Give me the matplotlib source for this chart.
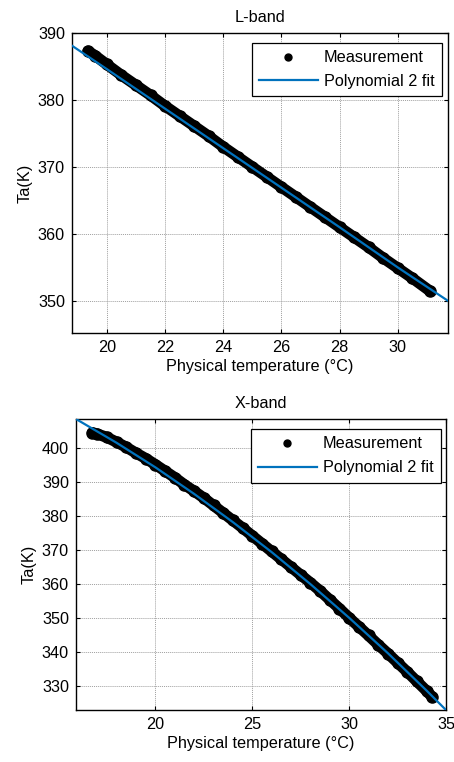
import matplotlib
matplotlib.use("Agg")
import matplotlib.pyplot as plt
from matplotlib.lines import Line2D

plt.rcParams['font.family'] = ['Liberation Sans', 'DejaVu Sans']
FS = 11.7
plt.rcParams['font.size'] = FS

# ---------------- L-band data ----------------
l_meas_x = [19.35, 19.6, 20.0, 20.5, 21.0, 21.5, 22.0, 22.5, 23.0, 23.5, 24.0, 24.5,
            25.0, 25.5, 26.0, 26.5, 27.0, 27.5, 28.0, 28.5, 29.0, 29.5, 30.0, 30.5, 31.1]
l_meas_y = [387.3, 386.6, 385.3, 383.7, 382.2, 380.7, 379.1, 377.6, 376.1, 374.6, 373.0, 371.5,
            370.0, 368.5, 367.0, 365.5, 364.0, 362.5, 361.0, 359.5, 358.0, 356.4, 354.9, 353.4, 351.5]
l_fit_x = [18.8, 20.0, 22.0, 24.0, 26.0, 28.0, 30.0, 31.73]
l_fit_y = [388.1, 384.6, 378.7, 372.8, 366.9, 361.0, 355.0, 350.0]
l_xticks = [20, 22, 24, 26, 28, 30]
l_yticks = [350, 360, 370, 380, 390]
l_xlim = (18.8, 31.73)
l_ylim = (345.2, 390)

# ---------------- X-band data ----------------
x_meas_x = [16.74, 17.0, 17.5, 18.0, 18.5, 19.0, 19.5, 20.0, 20.5, 21.0, 21.5, 22.0,
            22.5, 23.0, 23.5, 24.0, 24.5, 25.0, 25.5, 26.0, 26.5, 27.0, 27.5, 28.0,
            28.5, 29.0, 29.5, 30.0, 30.5, 31.0, 31.5, 32.0, 32.5, 33.0, 33.5, 34.0, 34.28]
x_meas_y = [404.4, 404.0, 403.0, 401.6, 400.1, 398.4, 396.8, 395.0, 393.1, 391.2, 389.1, 387.2,
            385.2, 383.0, 380.8, 378.6, 376.4, 374.1, 371.8, 369.5, 367.2, 364.9, 362.6, 360.3,
            357.9, 355.3, 352.7, 350.0, 347.4, 344.8, 342.1, 339.5, 336.8, 334.1, 331.3, 328.5, 326.8]
x_fit_x = [15.9, 18.0, 20.0, 22.0, 24.0, 26.0, 28.0, 30.0, 32.0, 34.0, 35.0]
x_fit_y = [408.4, 401.4, 394.2, 386.4, 378.1, 369.3, 359.9, 350.0, 339.6, 328.6, 322.9]
x_xticks = [20, 25, 30, 35]
x_yticks = [330, 340, 350, 360, 370, 380, 390, 400]
x_xlim = (15.9, 35.0)
x_ylim = (322.9, 408.4)

BLUE = '#0072BD'

fig = plt.figure(figsize=(4.54, 7.62), dpi=100)
ax1 = fig.add_axes([0.1586, 0.5630, 0.8282, 0.3937])
ax2 = fig.add_axes([0.1674, 0.0682, 0.8150, 0.3819])


def draw(ax, mx, my, fx, fy, xt, yt, xl, yl, title, leg_anchor):
    ax.plot(mx, my, color='black', lw=8, solid_capstyle='round', zorder=2)
    ax.plot(mx, my, 'o', color='black', ms=8, zorder=2)
    ax.plot(fx, fy, color=BLUE, lw=1.6, zorder=3)
    ax.set_xlim(*xl)
    ax.set_ylim(*yl)
    ax.set_xticks(xt)
    ax.set_yticks(yt)
    ax.grid(True, color='#a0a0a0', linestyle=(0, (1, 1)), linewidth=0.7)
    ax.tick_params(direction='in', top=True, right=True, length=3, width=0.8,
                   labelsize=FS, pad=5, colors='black')
    for s in ax.spines.values():
        s.set_linewidth(1.0)
    ax.set_title(title, fontsize=FS, pad=8)
    ax.set_xlabel('Physical temperature (°C)', fontsize=FS, labelpad=3)
    ax.set_ylabel('Ta(K)', fontsize=FS, labelpad=4)
    handles = [Line2D([], [], color='black', marker='o', ls='none', ms=5),
               Line2D([], [], color=BLUE, lw=1.6)]
    leg = ax.legend(handles, ['Measurement', 'Polynomial 2 fit'], loc='upper right',
                    bbox_to_anchor=leg_anchor, bbox_transform=ax.transAxes,
                    fancybox=False, framealpha=1, edgecolor='black',
                    handlelength=3.6, handletextpad=0.4, borderpad=0.45,
                    labelspacing=0.55, borderaxespad=0, fontsize=FS)
    leg.get_frame().set_linewidth(0.9)


draw(ax1, l_meas_x, l_meas_y, l_fit_x, l_fit_y, l_xticks, l_yticks, l_xlim, l_ylim,
     'L-band', (0.984, 0.967))
draw(ax2, x_meas_x, x_meas_y, x_fit_x, x_fit_y, x_xticks, x_yticks, x_xlim, x_ylim,
     'X-band', (0.9865, 0.9656))

fig.savefig('out.png', dpi=100)
